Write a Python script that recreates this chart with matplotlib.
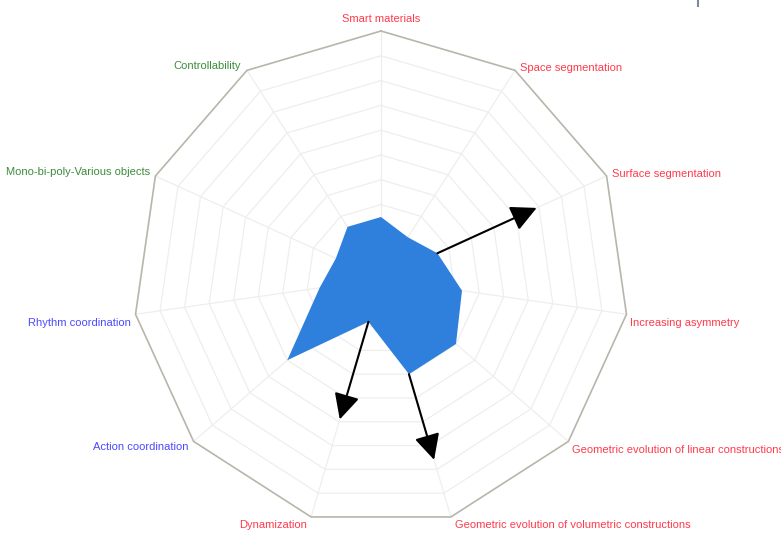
import numpy as np
import matplotlib
matplotlib.use('Agg')
import matplotlib.pyplot as plt
from matplotlib.lines import Line2D

##############################################################################
# DATA
##############################################################################
categories = ['Smart materials', 'Space segmentation', 'Surface segmentation',
              'Increasing asymmetry', 'Geometric evolution of linear constructions',
              'Geometric evolution of volumetric constructions', 'Dynamization',
              'Action coordination', 'Rhythm coordination',
              'Mono-bi-poly-Various objects', 'Controllability']
values = [2.5, 2.0, 2.5, 3.3, 4.0, 4.0, 1.8, 5.0, 2.5, 2.0, 2.5]
scale_max = 10

# arrows: (axis index, start value, end value)
arrow_axis = [2, 6, 5]
arrow_start = [2.5, 1.8, 4.0]
arrow_end = [6.9, 5.9, 7.6]

##############################################################################
# STYLE
##############################################################################
red = '#ff3a4a'
blue = '#4a4aff'
green = '#3c8c3c'
label_colors = [red] * 7 + [blue, blue, green, green]
# label offsets (pixels) and alignment
label_offsets = [(0, 12), (5, 2), (5, 2), (4, -9), (4, -9), (4, -8),
                 (-4, -8), (-5, -6), (-5, -9), (-5, 4), (-6, 4)]
label_ha = ['center', 'left', 'left', 'left', 'left', 'left',
            'right', 'right', 'right', 'right', 'right']

W, H = 781, 534
cx, cy = 381, 279          # centre in pixels (from top-left)
unit = 24.8                # pixels per value unit

fig = plt.figure(figsize=(W / 100, H / 100), dpi=100)
ax = fig.add_axes([0, 0, 1, 1])
ax.set_xlim(-cx / unit, (W - cx) / unit)
ax.set_ylim(-(H - cy) / unit, cy / unit)
ax.axis('off')

n = len(categories)
theta = 2 * np.pi * np.arange(n) / n
sx, sy = np.sin(theta), np.cos(theta)

# grid rings
for r in range(1, scale_max + 1):
    xs = np.append(sx * r, sx[0] * r)
    ys = np.append(sy * r, sy[0] * r)
    if r == scale_max:
        ax.plot(xs, ys, color='#b8b5aa', lw=1.2, zorder=2)
    else:
        ax.plot(xs, ys, color='#eeeeee', lw=0.9, zorder=1)
for i in range(n):
    ax.plot([0, sx[i] * scale_max], [0, sy[i] * scale_max], color='#eeeeee', lw=0.9, zorder=1)

# data polygon
v = np.array(values)
ax.fill(sx * v, sy * v, color='#2f80dc', lw=0, zorder=3)

# arrows
for a, s, e in zip(arrow_axis, arrow_start, arrow_end):
    ax.annotate('', xy=(sx[a] * e, sy[a] * e), xytext=(sx[a] * s, sy[a] * s),
                arrowprops=dict(arrowstyle='-|>,head_length=1.3,head_width=0.65',
                                color='black', lw=1.5, shrinkA=0, shrinkB=0,
                                mutation_scale=12), zorder=4)

# labels
for i, name in enumerate(categories):
    ax.annotate(name, xy=(sx[i] * scale_max, sy[i] * scale_max),
                xytext=label_offsets[i], textcoords='offset pixels',
                ha=label_ha[i], va='center', fontsize=8,
                family='Liberation Sans', color=label_colors[i])

# small mark in the top right corner
fig.add_artist(Line2D([698 / W, 698 / W], [1, 1 - 6 / H], color='#7a8aa0', lw=1.5))

plt.savefig('out.png', dpi=100)
